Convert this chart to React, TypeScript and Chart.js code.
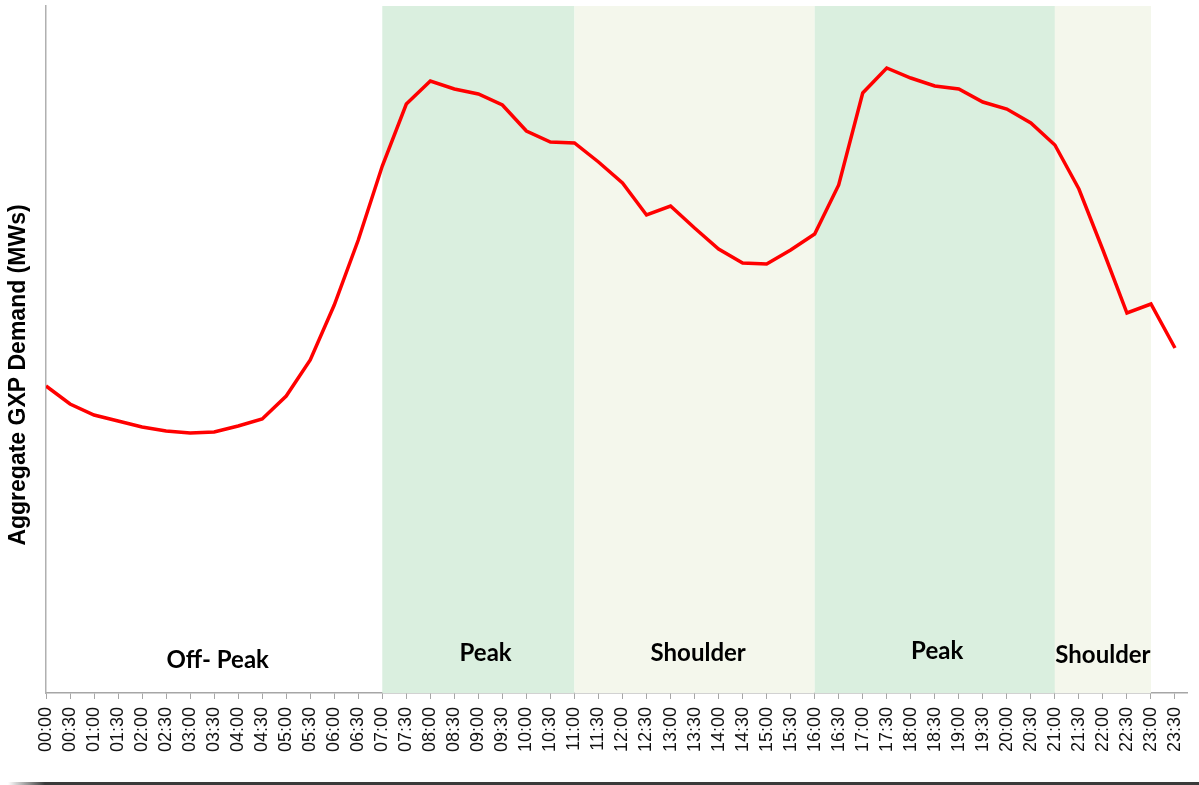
import React, { useEffect, useRef } from "react";
import { Chart, registerables } from "chart.js";

Chart.register(...registerables);

const timeLabels = [
  "00:00", "00:30", "01:00", "01:30", "02:00", "02:30", "03:00", "03:30",
  "04:00", "04:30", "05:00", "05:30", "06:00", "06:30", "07:00", "07:30",
  "08:00", "08:30", "09:00", "09:30", "10:00", "10:30", "11:00", "11:30",
  "12:00", "12:30", "13:00", "13:30", "14:00", "14:30", "15:00", "15:30",
  "16:00", "16:30", "17:00", "17:30", "18:00", "18:30", "19:00", "19:30",
  "20:00", "20:30", "21:00", "21:30", "22:00", "22:30", "23:00", "23:30",
];

// Aggregate GXP demand (relative units)
const demand = [
  307, 289, 278, 272, 266, 262, 260, 261,
  267, 274, 297, 333, 388, 453, 527, 589,
  612, 604, 599, 588, 562, 551, 550, 531,
  510, 478, 487, 465, 444, 430, 429, 443,
  459, 508, 600, 625, 615, 607, 604, 591,
  584, 570, 548, 504, 443, 380, 389, 345,
];

const periodNames = ["Off- Peak", "Peak", "Shoulder", "Peak", "Shoulder"];
const periodKinds = ["off", "peak", "shoulder", "peak", "shoulder"];
const periodStart = [0, 14, 22, 32, 42];
const periodEnd = [14, 22, 32, 42, 46];
const periodLabelAt = [7.15, 18.3, 27.15, 37.1, 44.0];
const periodLabelLevel = [33, 40, 40, 42, 38];

const yTitle = "Aggregate GXP Demand (MWs)";

const kindColor: Record<string, string | null> = {
  off: null,
  peak: "#daefdf",
  shoulder: "#f4f7ec",
};

const bandsPlugin = {
  id: "bands",
  beforeDatasetsDraw(chart: any) {
    const { ctx, chartArea, scales } = chart;
    const x = scales.x;
    const y = scales.y;
    ctx.save();
    periodNames.forEach((_, i) => {
      const c = kindColor[periodKinds[i]];
      if (!c) return;
      const x0 = x.getPixelForValue(periodStart[i]);
      const x1 = x.getPixelForValue(periodEnd[i]);
      ctx.fillStyle = c;
      ctx.fillRect(x0, chartArea.top, x1 - x0, chartArea.bottom - chartArea.top);
    });
    ctx.fillStyle = "#000";
    ctx.font = 'bold 24px Lato, "Open Sans", sans-serif';
    ctx.textAlign = "center";
    ctx.textBaseline = "middle";
    periodNames.forEach((name, i) => {
      ctx.fillText(name, x.getPixelForValue(periodLabelAt[i]), y.getPixelForValue(periodLabelLevel[i]));
    });
    ctx.restore();
  },
  afterDraw(chart: any) {
    const { ctx } = chart;
    ctx.save();
    ctx.translate(19, 375);
    ctx.rotate(-Math.PI / 2);
    ctx.font = 'bold 23px "Liberation Sans", Arial, sans-serif';
    ctx.fillStyle = "#000";
    ctx.textAlign = "center";
    ctx.textBaseline = "middle";
    ctx.fillText(yTitle, 0, 0);
    ctx.restore();
  },
};

export default function App() {
  const ref = useRef<HTMLCanvasElement>(null);
  useEffect(() => {
    if (!ref.current) return;
    const chart = new Chart(ref.current, {
      type: "line",
      data: {
        datasets: [
          {
            label: "Demand",
            data: demand.map((v, i) => ({ x: i, y: v })),
            borderColor: "#ff0000",
            borderWidth: 3.5,
            pointRadius: 0,
            tension: 0,
            fill: false,
          },
        ],
      },
      options: {
        animation: false,
        responsive: false,
        maintainAspectRatio: false,
        layout: { padding: { top: 6, right: 12, left: 0, bottom: 0 } },
        plugins: { legend: { display: false }, tooltip: { enabled: false } },
        scales: {
          x: {
            type: "linear",
            min: 0,
            max: 47.5,
            afterBuildTicks: (s: any) => {
              s.ticks = timeLabels.map((_, i) => ({ value: i }));
            },
            afterFit: (s: any) => {
              s.height = 92;
              s.paddingRight = 0;
              s.paddingLeft = 0;
            },
            ticks: {
              autoSkip: false,
              stepSize: 1,
              minRotation: 90,
              maxRotation: 90,
              padding: 8,
              color: "#111",
              font: { family: '"Liberation Sans", Arial, sans-serif', size: 18 },
              callback: (v: any) => timeLabels[v] ?? "",
            },
            grid: {
              display: true,
              drawOnChartArea: false,
              drawTicks: true,
              tickLength: 6,
              color: "#a6a6a6",
              lineWidth: 1,
            },
            border: { display: true, color: "#a6a6a6", width: 1.5 },
          },
          y: {
            min: 0,
            max: 687,
            afterFit: (s: any) => {
              s.width = 46;
            },
            ticks: { display: false },
            grid: { display: false, drawTicks: false },
            border: { display: true, color: "#b0b0b0", width: 1.5 },
          },
        },
      },
      plugins: [bandsPlugin],
    });
    return () => chart.destroy();
  }, []);
  return (
    <div style={{ position: "absolute", left: 0, top: 0, width: 1199, height: 785, background: "#fff" }}>
      <canvas ref={ref} width={1199} height={785} style={{ display: "block" }} />
      <div
        style={{
          position: "absolute",
          left: 0,
          top: 782,
          width: 1199,
          height: 3,
          background: "linear-gradient(to right, rgba(58,58,58,0) 0px, rgba(58,58,58,0) 8px, #3a3a3a 45px)",
        }}
      />
    </div>
  );
}
